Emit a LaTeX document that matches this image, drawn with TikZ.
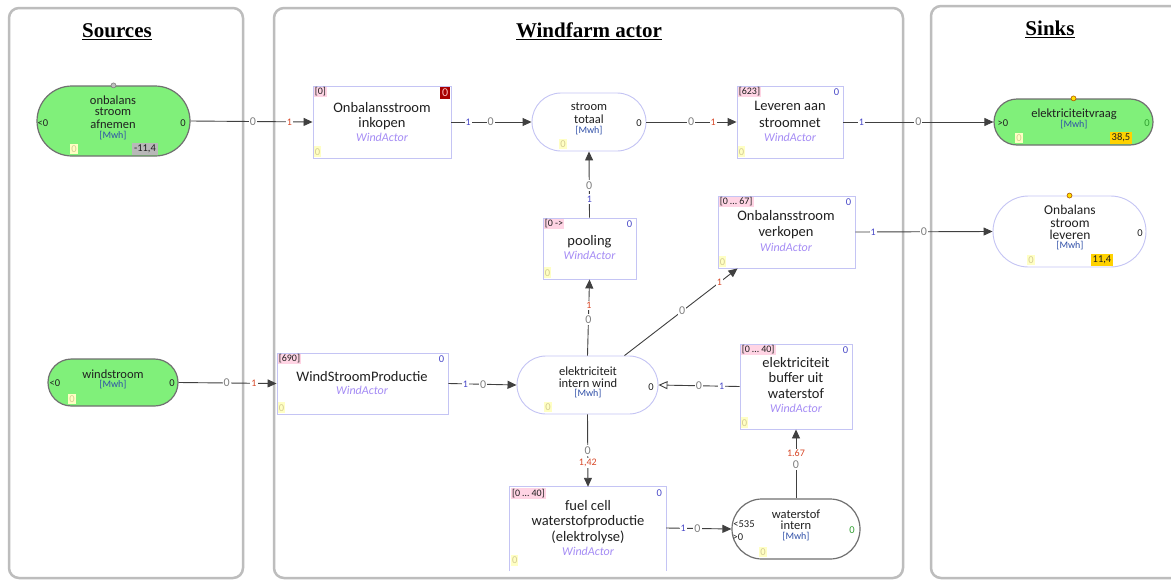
\documentclass[tikz,border=0pt]{standalone}
\usepackage{fontspec}
\setmainfont{Carlito}
\newfontfamily\titlefont{Liberation Serif}
\usetikzlibrary{arrows.meta,calc,shapes.misc}
\definecolor{panelgray}{HTML}{BDBDBD}
\definecolor{greenfill}{HTML}{80F07A}
\definecolor{lav}{HTML}{C4C4F4}
\definecolor{pinkbg}{HTML}{FFD4E4}
\definecolor{yelbg}{HTML}{FFFFC4}
\definecolor{yeltxt}{HTML}{D4CC94}
\definecolor{goldbg}{HTML}{FFD200}
\definecolor{graybg}{HTML}{B8B8B8}
\definecolor{labgray}{HTML}{808080}
\definecolor{labred}{HTML}{D84828}
\definecolor{labblue}{HTML}{4848C8}
\definecolor{actorpurple}{HTML}{A58CF5}
\definecolor{mwhblue}{HTML}{3050A8}
\definecolor{txtdark}{HTML}{202020}
\definecolor{linegray}{HTML}{404040}
\definecolor{stadgray}{HTML}{707070}
\definecolor{zerogreen}{HTML}{30A030}
\definecolor{darkredbg}{HTML}{A80000}
\definecolor{dotyellow}{HTML}{FFE000}
\begin{document}
\begin{tikzpicture}[x=1pt,y=-1pt,
  panel/.style={draw=panelgray, line width=2.5pt, rounded corners=10pt},
  title/.style={font=\titlefont\bfseries\fontsize{21}{25}\selectfont, text=black, inner sep=0pt},
  actor/.style={draw=lav, line width=0.9pt, fill=white, inner sep=0pt, rectangle},
  stadgreen/.style={rounded rectangle, draw=stadgray, line width=1.2pt, fill=greenfill, inner sep=0pt},
  stadlav/.style={rounded rectangle, draw=lav, line width=0.9pt, fill=white, inner sep=0pt},
  stadgrey/.style={rounded rectangle, draw=stadgray, line width=1.2pt, fill=white, inner sep=0pt},
  big/.style={font=\fontsize{14.5}{16}\selectfont, text=txtdark, inner sep=0pt},
  med/.style={font=\fontsize{12.5}{13}\selectfont, text=txtdark, inner sep=0pt},
  medb/.style={font=\fontsize{13.5}{14}\selectfont, text=txtdark, inner sep=0pt},
  mwh/.style={font=\fontsize{10}{11}\selectfont, text=mwhblue, inner sep=0pt},
  wa/.style={font=\fontsize{12}{13}\selectfont\itshape, text=actorpurple, inner sep=0pt},
  small/.style={font=\fontsize{10.5}{11}\selectfont, inner sep=1pt},
  pinklbl/.style={font=\fontsize{10}{11}\selectfont, inner sep=1pt, fill=pinkbg, text=txtdark, anchor=north west},
  bluezero/.style={small, text=labblue, anchor=north east},
  yel/.style={small, fill=yelbg, text=yeltxt, inner ysep=2pt},
  side/.style={small, text=txtdark},
  gold/.style={small, fill=goldbg, text=txtdark, inner xsep=2pt, inner ysep=2pt},
  dot/.style={circle, inner sep=0pt, minimum size=5pt, line width=0.6pt},
  conn/.style={draw=linegray, line width=0.9pt, -{Triangle[length=9pt,width=8pt]}},
  c0/.style={font=\fontsize{12}{13}\selectfont, fill=white, inner xsep=1pt, inner ysep=1.5pt, text=labgray},
  cr/.style={font=\fontsize{10}{11}\selectfont, fill=white, inner xsep=1pt, inner ysep=1.5pt, text=labred},
  cb/.style={font=\fontsize{10}{11}\selectfont, fill=white, inner xsep=1pt, inner ysep=1.5pt, text=labblue}
]
\useasboundingbox (0,0) rectangle (1171,581);
\clip (0,0) rectangle (1171,581);
\fill[white] (0,0) rectangle (1171,581);

% panels
\draw[panel] (9,8) rectangle (243,578);
\draw[panel] (274,8) rectangle (903,578);
\draw[panel] (931,6) rectangle (1195,578);

\node[title] (tsrc) at (117,32) {\underline{Sources}};
\node[title] (twf) at (589,31) {\underline{Windfarm actor}};
\node[title] (tsnk) at (1050,29) {\underline{Sinks}};

% ---- stadium nodes
\node[stadgreen, minimum width=153pt, minimum height=70pt] (afn) at (113.5,121) {};
\node[stadgreen, minimum width=130pt, minimum height=47pt] (wsr) at (113,382.5) {};
\node[stadlav, minimum width=114pt, minimum height=58pt] (tot) at (589,122) {};
\node[stadlav, minimum width=141pt, minimum height=58pt] (iw) at (587.5,385) {};
\node[stadgreen, minimum width=159pt, minimum height=46pt] (vraag) at (1073.5,122) {};
\node[stadlav, minimum width=153pt, minimum height=71pt] (olev) at (1069.5,231.5) {};
\node[stadgrey, minimum width=128pt, minimum height=60pt] (wsi) at (796,529) {};

% ---- actor boxes
\node[actor, minimum width=138pt, minimum height=72pt] (ink) at (382,122) {};
\node[actor, minimum width=106pt, minimum height=72pt] (lev) at (790,122) {};
\node[actor, minimum width=93pt, minimum height=61pt] (pool) at (589.5,248.5) {};
\node[actor, minimum width=137pt, minimum height=72pt] (verk) at (786.5,232) {};
\node[actor, minimum width=171pt, minimum height=61pt] (wsp) at (362.5,383.5) {};
\node[actor, minimum width=112pt, minimum height=85pt] (buf) at (796,386.5) {};
\node[inner sep=0pt, minimum width=156pt, minimum height=82pt, fill=white] (fc) at (588,528) {};
\draw[draw=lav, line width=0.9pt] ([yshift=-2]fc.south west) -- (fc.north west) -- (fc.north east) -- ([yshift=-2]fc.south east);

% ---- texts: afn
\node[med] at (113,100) {onbalans};
\node[med] at (113,112) {stroom};
\node[med] at (113,124) {afnemen};
\node[mwh] at (113,136) {[Mwh]};
\node[side] at (43,123) {<0};
\node[side] at (183,123) {0};
\node[yel] at (74,149) {0};
\node[small, fill=graybg, text=txtdark, inner xsep=2pt, inner ysep=2pt] at (145,149) {-11,4};
\node[dot, draw=gray, fill=lightgray] at (afn.north) {};

% wsr
\node[med] at (113,374) {windstroom};
\node[mwh] at (113,385) {[Mwh]};
\node[side] at (55,383) {<0};
\node[side] at (172,383) {0};
\node[yel] at (72,399) {0};

% tot
\node[med] at (589,107) {stroom};
\node[med] at (589,119) {totaal};
\node[mwh] at (589,131) {[Mwh]};
\node[yel] at (563,144) {0};
\node[side] at (639,123) {0};

% iw
\node[med] at (588,371) {elektriciteit};
\node[med] at (588,383) {intern wind};
\node[mwh] at (588,394) {[Mwh]};
\node[yel] at (548,407) {0};
\node[side] at (651,387) {0};

% vraag
\node[med] at (1074,114) {elektriciteitvraag};
\node[mwh] at (1074,125) {[Mwh]};
\node[side] at (1003,123) {>0};
\node[side, text=zerogreen] at (1147,123) {0};
\node[yel] at (1019,138) {0};
\node[gold] at (1121,138) {38,5};
\node[dot, draw=orange!70!black, fill=dotyellow] at (vraag.north) {};

% olev
\node[medb] at (1070,210) {Onbalans};
\node[medb] at (1070,223) {stroom};
\node[medb] at (1070,235) {leveren};
\node[mwh] at (1070,246) {[Mwh]};
\node[side] at (1140,233) {0};
\node[yel] at (1031,260) {0};
\node[gold] at (1102,260) {11,4};
\node[dot, draw=orange!70!black, fill=dotyellow] at (olev.north) {};

% wsi
\node[med] at (796,514) {waterstof};
\node[med] at (796,525) {intern};
\node[mwh] at (796,537) {[Mwh]};
\node[side] at (744,524) {<535};
\node[side] at (738,537) {>0};
\node[side, text=zerogreen] at (852,530) {0};
\node[yel] at (763,552) {0};

% ---- box texts
\node[big] at (382,108) {Onbalansstroom};
\node[big] at (382,124) {inkopen};
\node[wa] at (382,137) {WindActor};
\node[pinklbl] at ([shift={(1,1)}]ink.north west) {[0]};
\node[fill=darkredbg, text=pink, anchor=north east, font=\fontsize{12}{13}\selectfont, inner xsep=2pt, inner ysep=2pt] at ([shift={(-1,1)}]ink.north east) {0};
\node[yel, anchor=south west] at ([shift={(1,-1)}]ink.south west) {0};

\node[big] at (790,106) {Leveren aan};
\node[big] at (790,123) {stroomnet};
\node[wa] at (790,137) {WindActor};
\node[pinklbl] at ([shift={(1,1)}]lev.north west) {[623]};
\node[bluezero] at ([shift={(-3,2)}]lev.north east) {0};
\node[yel, anchor=south west] at ([shift={(1,-1)}]lev.south west) {0};

\node[big] at (589.5,242) {pooling};
\node[wa] at (589.5,255) {WindActor};
\node[pinklbl] at ([shift={(1,1)}]pool.north west) {[0 ->};
\node[bluezero] at ([shift={(-3,2)}]pool.north east) {0};
\node[yel, anchor=south west] at ([shift={(1,-1)}]pool.south west) {0};

\node[big] at (786,216) {Onbalansstroom};
\node[big] at (786,233) {verkopen};
\node[wa] at (786,247) {WindActor};
\node[pinklbl] at ([shift={(1,1)}]verk.north west) {[0 … 67]};
\node[bluezero] at ([shift={(-3,2)}]verk.north east) {0};
\node[yel, anchor=south west] at ([shift={(1,-1)}]verk.south west) {0};

\node[big] at (362,377) {WindStroomProductie};
\node[wa] at (362,390) {WindActor};
\node[pinklbl] at ([shift={(1,1)}]wsp.north west) {[690]};
\node[bluezero] at ([shift={(-3,2)}]wsp.north east) {0};
\node[yel, anchor=south west] at ([shift={(1,-1)}]wsp.south west) {0};

\node[big] at (796,363) {elektriciteit};
\node[big] at (796,378) {buffer uit};
\node[big] at (796,394) {waterstof};
\node[wa] at (796,408) {WindActor};
\node[pinklbl] at ([shift={(1,1)}]buf.north west) {[0 … 40]};
\node[bluezero] at ([shift={(-3,2)}]buf.north east) {0};
\node[yel, anchor=south west] at ([shift={(1,-1)}]buf.south west) {0};

\node[big] at (588,506) {fuel cell};
\node[big] at (588,522) {waterstofproductie};
\node[big] at (588,537) {(elektrolyse)};
\node[wa] at (588,551) {WindActor};
\node[pinklbl] at ([shift={(1,1)}]fc.north west) {[0 … 40]};
\node[bluezero] at ([shift={(-3,2)}]fc.north east) {0};
\node[yel, anchor=south west] at ([shift={(1,-3)}]fc.south west) {0};

% ---- connectors
\draw[conn] (afn.east) -- (ink.west)
  node[c0, pos=.51] {0} node[cr, pos=.81] {1};
\draw[conn] (ink.east) -- (tot.west)
  node[cb, pos=.21] {1} node[c0, pos=.49] {0};
\draw[conn] (tot.east) -- (lev.west)
  node[c0, pos=.495] {0} node[cr, pos=.74] {1};
\draw[conn] (lev.east) -- (vraag.west)
  node[cb, pos=.12] {1} node[c0, pos=.5] {0};
\draw[conn] (verk.east) -- (olev.west)
  node[cb, pos=.13] {1} node[c0, pos=.5] {0};
\draw[conn] (pool.north) -- (tot.south)
  node[cb, pos=.28] {1} node[c0, pos=.49] {0};
\draw[conn] (iw.north) -- (pool.south)
  node[c0, pos=.47] {0} node[cr, pos=.66] {1};
\draw[conn] ([xshift=37]iw.north) -- ([xshift=20]verk.south west)
  node[c0, pos=.51] {0} node[cr, pos=.84] {1};
\draw[conn] (wsr.east) -- (wsp.west)
  node[c0, pos=.49] {0} node[cr, pos=.77] {1};
\draw[conn] (wsp.east) -- (iw.west)
  node[cb, pos=.25] {1} node[c0, pos=.51] {0};
\draw[draw=linegray, line width=0.9pt, -{Triangle[open,length=9pt,width=8pt]}] (buf.west) -- (iw.east)
  node[cb, pos=.22] {1} node[c0, pos=.50] {0};
\draw[conn] (iw.south) -- (fc.north)
  node[c0, pos=.50] {0} node[cr, pos=.67] {1,42};
\draw[conn] (fc.east) -- (wsi.west)
  node[cb, pos=.26] {1} node[c0, pos=.48] {0};
\draw[conn] (wsi.north) -- (buf.south)
  node[c0, pos=.49] {0} node[cr, pos=.65] {1.67};
\end{tikzpicture}
\end{document}
